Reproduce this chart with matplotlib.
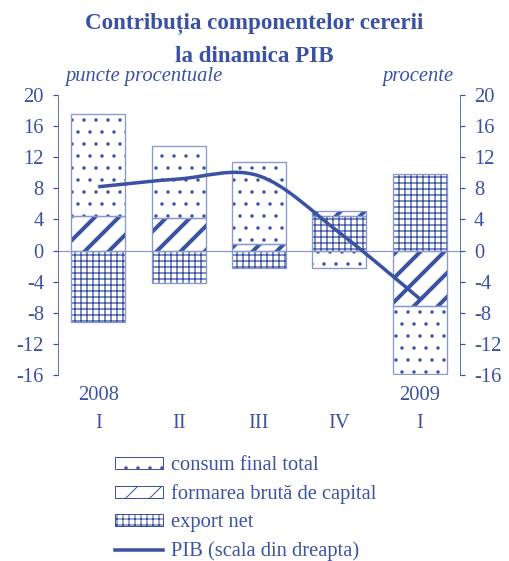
import matplotlib
matplotlib.use("Agg")
import matplotlib.pyplot as plt
import matplotlib.patches as mpatches
from matplotlib.path import Path
import numpy as np

# data
quarters = ["I", "II", "III", "IV", "I"]
years = {0: "2008", 4: "2009"}
consum = [13.1, 9.25, 10.55, -2.3, -8.75]
formare = [4.4, 4.15, 0.85, 0.75, -7.1]
export_net = [-9.2, -4.15, -2.3, 4.4, 9.8]
pib = [8.2, 9.2, 9.6, 2.3, -6.2]

blue = "#3A52A3"
edge = "#8797CF"
plt.rcParams["font.family"] = ["Liberation Serif", "DejaVu Serif"]
plt.rcParams["axes.unicode_minus"] = False
fs = 20.5

fig = plt.figure(figsize=(509 / 72, 561 / 72), dpi=72)
ax = fig.add_axes([58 / 509, 1 - 375 / 561, (460 - 58) / 509, (375 - 95) / 561])
ax2 = ax.twinx()

x = np.arange(len(quarters))
width = 0.67

# stacking order as in the source: export net, formarea bruta, consum
series = [
    (export_net, "++", 1.3, "export net"),
    (formare, "/", 4.0, "formarea brută de capital"),
    (consum, ".", 1.0, "consum final total"),
]
pos = np.zeros(len(x))
neg = np.zeros(len(x))
handles = {}
for vals, hatch, hlw, label in series:
    vals = np.array(vals)
    bottom = np.where(vals >= 0, pos, neg)
    bars = ax.bar(x, vals, width, bottom=bottom, color="white", edgecolor=blue,
                  linewidth=0, hatch=hatch, zorder=2)
    for b in bars:
        if hasattr(b, "set_hatch_linewidth"):
            b.set_hatch_linewidth(hlw)
    ax.bar(x, vals, width, bottom=bottom, fill=False, edgecolor=edge,
           linewidth=1.3, zorder=3)
    pos = pos + np.where(vals >= 0, vals, 0)
    neg = neg + np.where(vals < 0, vals, 0)
    h = mpatches.Patch(facecolor="white", edgecolor=blue, hatch=hatch, linewidth=1)
    if hasattr(h, "set_hatch_linewidth"):
        h.set_hatch_linewidth(min(hlw, 2.5))
    handles[label] = h

ax.axhline(0, color=edge, linewidth=1.2, zorder=1)

# PIB - smoothed line (Catmull-Rom through the points)
px = x.astype(float)
py = np.array(pib)
verts = [(px[0], py[0])]
codes = [Path.MOVETO]
n = len(px)
for i in range(n - 1):
    p0 = np.array([px[max(i - 1, 0)], py[max(i - 1, 0)]])
    p1 = np.array([px[i], py[i]])
    p2 = np.array([px[i + 1], py[i + 1]])
    p3 = np.array([px[min(i + 2, n - 1)], py[min(i + 2, n - 1)]])
    c1 = p1 + (p2 - p0) / 6
    c2 = p2 - (p3 - p1) / 6
    verts += [tuple(c1), tuple(c2), tuple(p2)]
    codes += [Path.CURVE4] * 3
ax2.add_patch(mpatches.PathPatch(Path(verts, codes), fill=False, edgecolor=blue,
                                 linewidth=3.5, capstyle="butt", zorder=5))

for a in (ax, ax2):
    a.set_ylim(-16, 20)
    a.set_yticks(range(-16, 21, 4))
    a.set_xlim(-0.5, 4.5)
    a.spines["top"].set_visible(False)
    a.spines["bottom"].set_visible(False)
    a.spines["left"].set_color(blue)
    a.spines["right"].set_color(blue)
    a.tick_params(axis="y", colors=blue, labelcolor=blue, labelsize=fs,
                  length=5, width=1.2, pad=9, direction="out")
    a.set_xticks([])
ax.spines["right"].set_visible(False)
ax2.spines["left"].set_visible(False)
ax.set_zorder(ax2.get_zorder() - 1)
ax2.patch.set_visible(False)

for i, q in enumerate(quarters):
    ax.annotate(q, xy=(i, 0), xycoords=("data", "axes fraction"), xytext=(0, -49),
                textcoords="offset points", ha="center", va="center", color=blue, fontsize=fs)
for i, yr in years.items():
    ax.annotate(yr, xy=(i, 0), xycoords=("data", "axes fraction"), xytext=(0, -20),
                textcoords="offset points", ha="center", va="center", color=blue, fontsize=fs)

fig.text(0.5, 1 - 23 / 561, "Contribuția componentelor cererii", ha="center", va="center",
         color=blue, fontsize=23, fontweight="bold")
fig.text(0.5, 1 - 56 / 561, "la dinamica PIB", ha="center", va="center",
         color=blue, fontsize=23, fontweight="bold")
fig.text(65 / 509, 1 - 77 / 561, "puncte procentuale", ha="left", va="center",
         color=blue, fontsize=fs, style="italic")
fig.text(453 / 509, 1 - 77 / 561, "procente", ha="right", va="center",
         color=blue, fontsize=fs, style="italic")

line_h = plt.Line2D([], [], color=blue, linewidth=3.5)
labels = ["consum final total", "formarea brută de capital", "export net",
          "PIB (scala din dreapta)"]
leg = fig.legend([handles[labels[0]], handles[labels[1]], handles[labels[2]], line_h],
                 labels, loc="upper left", bbox_to_anchor=(115 / 509, 1 - 456 / 561),
                 frameon=False, fontsize=fs, handlelength=2.35, handleheight=0.5,
                 handletextpad=0.4, labelspacing=0.45, borderpad=0, borderaxespad=0)
for t in leg.get_texts():
    t.set_color(blue)

fig.savefig("out.png", dpi=72)
